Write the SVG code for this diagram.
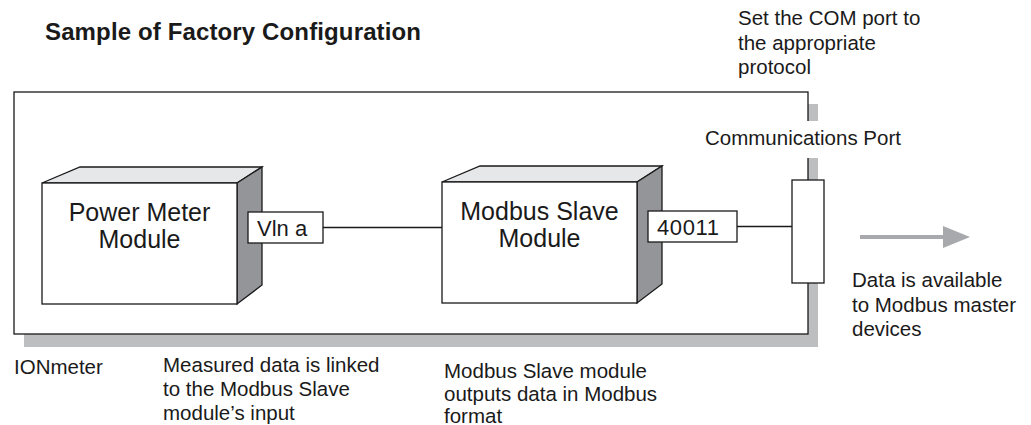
<svg xmlns="http://www.w3.org/2000/svg" width="1031" height="425" viewBox="0 0 1031 425">
<style>
text{font-family:"Liberation Sans",Arial,sans-serif;fill:#1a1a1a;font-size:20.5px}
.title{font-weight:bold;font-size:24px}
.big{font-size:25px}
.tag{font-size:22px}
.box{fill:#fff;stroke:#1a1a1a;stroke-width:1.3}
.top{fill:#e6e7e8;stroke:#1a1a1a;stroke-width:1.3}
.side{fill:#939598;stroke:#1a1a1a;stroke-width:1.3}
.wire{stroke:#1a1a1a;stroke-width:1.3;fill:none}
</style>
<rect width="1031" height="425" fill="#fff"/>
<text class="title" x="45" y="40" textLength="376">Sample of Factory Configuration</text>
<g id="meter">
<rect x="24" y="104" width="794" height="243" fill="#bcbec0"/>
<rect class="box" x="14" y="92" width="794" height="242"/>
<rect x="700" y="121" width="212" height="37" fill="#fff"/>
<text x="705" y="145">Communications Port</text>
</g>
<g id="power-meter">
<polygon class="top" points="42,183 80,167 262,167 237,183"/>
<polygon class="side" points="237,183 262,167 262,285 237,304"/>
<rect class="box" x="42" y="183" width="195" height="121"/>
<text class="big" x="139.5" y="221" text-anchor="middle">Power Meter</text>
<text class="big" x="139.5" y="248" text-anchor="middle">Module</text>
</g>
<g id="vlna">
<rect class="box" x="248" y="212" width="75" height="31"/>
<text class="tag" x="257" y="236">Vln a</text>
</g>
<g id="modbus-slave">
<polygon class="top" points="442,182 480,166 662,166 637,182"/>
<polygon class="side" points="637,182 662,166 662,284 637,303"/>
<rect class="box" x="442" y="182" width="195" height="121"/>
<text class="big" x="539.5" y="220" text-anchor="middle">Modbus Slave</text>
<text class="big" x="539.5" y="247" text-anchor="middle">Module</text>
</g>
<g id="reg40011">
<rect class="box" x="648" y="211" width="89" height="31"/>
<text class="tag" x="657" y="235" textLength="62">40011</text>
</g>
<g id="com-port">
<rect class="box" x="792" y="180" width="32" height="103"/>
</g>
<g id="connectors">
<line class="wire" x1="323" y1="227.5" x2="442" y2="227.5"/>
<line class="wire" x1="737" y1="226.5" x2="792" y2="226.5"/>
<line x1="860" y1="237" x2="948" y2="237" stroke="#a7a9ac" stroke-width="4"/>
<polygon points="943,226 970,237 943,248" fill="#a7a9ac"/>
</g>
<g id="labels">
<text x="738" y="25">Set the COM port to</text>
<text x="738" y="50">the appropriate</text>
<text x="738" y="74">protocol</text>
<text x="852" y="287">Data is available</text>
<text x="852" y="312">to Modbus master</text>
<text x="852" y="336">devices</text>
<text x="14" y="374">IONmeter</text>
<text x="163" y="372">Measured data is linked</text>
<text x="163" y="396">to the Modbus Slave</text>
<text x="163" y="420">module’s input</text>
<text x="444" y="378">Modbus Slave module</text>
<text x="444" y="401">outputs data in Modbus</text>
<text x="444" y="423">format</text>
</g>
</svg>
